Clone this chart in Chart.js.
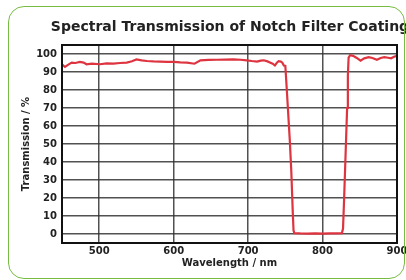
<!DOCTYPE html>
<html>
<head>
<meta charset="utf-8">
<script src="https://cdn.jsdelivr.net/npm/chart.js@4"></script>
<style>
  html, body { margin: 0; padding: 0; background: #fff; }
  #wrap { position: relative; width: 406px; height: 280px; overflow: hidden; }
  #plot { position: absolute; left: 0; top: 0; }
  #frame {
    position: absolute; left: 8px; top: 6px; width: 397px; height: 273px;
    box-sizing: border-box; border: 1.5px solid #76bc43; border-radius: 16px;
    pointer-events: none;
  }
</style>
</head>
<body>
<div id="wrap">
  <canvas id="plot" width="460" height="280" style="width:460px;height:280px"></canvas>
  <div id="frame"></div>
</div>
<script>
// wavelength in nm, transmission in %
const wavelength = [
  450, 454, 458, 463, 468, 474, 479, 483, 490, 501, 510, 519, 528, 537, 544, 550,
  557, 564, 573, 582, 591, 600, 609, 618, 628, 636, 647, 658, 669, 680, 690, 698,
  705, 712, 717, 721, 726, 730, 733, 736, 739, 741, 744, 746, 748, 750,
  752, 754, 756, 758, 760, 761, 762,
  770, 780, 790, 800, 810, 820, 826,
  827.5, 829, 831, 833, 834, 835, 837,
  841, 846, 851, 856, 862, 867, 873, 878, 883, 888, 892, 896, 900
];
const transmission = [
  94.3, 92.8, 94.0, 95.2, 95.0, 95.6, 95.2, 94.3, 94.6, 94.3, 94.8, 94.7, 95.0, 95.2, 96.0, 97.0,
  96.5, 96.1, 95.9, 95.8, 95.6, 95.6, 95.3, 95.2, 94.6, 96.5, 96.7, 96.8, 96.9, 97.0, 96.8, 96.5,
  96.1, 95.8, 96.3, 96.5, 95.9, 95.2, 94.6, 93.6, 95.3, 96.0, 95.8, 95.2, 93.6, 93.4,
  80, 66, 52, 35, 12, 2, 0.5,
  0.3, 0.2, 0.3, 0.2, 0.3, 0.3, 0.5,
  3, 20, 45, 70, 88, 98, 99.3,
  99.0, 97.8, 96.3, 97.6, 98.2, 97.8, 96.8, 97.8, 98.3, 97.9, 97.6, 98.5, 99.0
];
const xTicks = [500, 600, 700, 800, 900];
const yTicks = [0, 10, 20, 30, 40, 50, 60, 70, 80, 90, 100];

const points = wavelength.map((w, i) => ({ x: w, y: transmission[i] }));

const gridColor = "rgba(50,50,50,0.85)";
const tickFont = { family: "DejaVu Sans", weight: "bold", size: 10 };

// frame round the plot area, like the matplotlib axes box
const boxPlugin = {
  id: "box",
  afterDraw(chart) {
    const a = chart.chartArea;
    const c = chart.ctx;
    c.save();
    c.strokeStyle = "#111";
    c.lineWidth = 2;
    c.strokeRect(a.left, a.top, a.right - a.left, a.bottom - a.top);
    c.restore();
  }
};

new Chart(document.getElementById("plot").getContext("2d"), {
  type: "line",
  data: {
    datasets: [{
      data: points,
      borderColor: "#dd3440",
      borderWidth: 2.2,
      pointRadius: 0,
      tension: 0,
      fill: false
    }]
  },
  options: {
    responsive: false,
    animation: false,
    layout: { padding: 0 },
    plugins: {
      legend: { display: false },
      tooltip: { enabled: false },
      title: {
        display: true,
        text: "Spectral Transmission of Notch Filter Coating",
        color: "#222",
        font: { family: "DejaVu Sans", weight: "bold", size: 14 },
        padding: { top: 18.5, bottom: 9.7 }
      }
    },
    scales: {
      x: {
        type: "linear",
        min: 450,
        max: 900,
        afterBuildTicks: s => { s.ticks = xTicks.map(v => ({ value: v })); },
        afterFit: s => { s.height = 37; },
        grid: { color: gridColor, lineWidth: 1.5, drawTicks: false },
        border: { display: false },
        ticks: { color: "#222", font: tickFont, padding: 2, maxRotation: 0 },
        title: {
          display: true,
          text: "Wavelength / nm",
          color: "#222",
          font: tickFont,
          padding: { top: 0, bottom: 11 }
        }
      },
      y: {
        min: -5,
        max: 105,
        afterBuildTicks: s => { s.ticks = yTicks.map(v => ({ value: v })); },
        afterFit: s => { s.width = 62; },
        grid: { color: gridColor, lineWidth: 1.5, drawTicks: false },
        border: { display: false },
        ticks: { color: "#222", font: tickFont, padding: 5 },
        title: {
          display: true,
          text: "Transmission / %",
          color: "#222",
          font: tickFont,
          padding: { top: 20, bottom: 0 }
        }
      },
      // empty right axis, only reserves the room beyond the plot edge
      yRight: {
        position: "right",
        min: -5,
        max: 105,
        afterFit: s => { s.width = 63; },
        grid: { display: false },
        border: { display: false },
        ticks: { display: false }
      }
    }
  },
  plugins: [boxPlugin]
});
</script>
</body>
</html>
